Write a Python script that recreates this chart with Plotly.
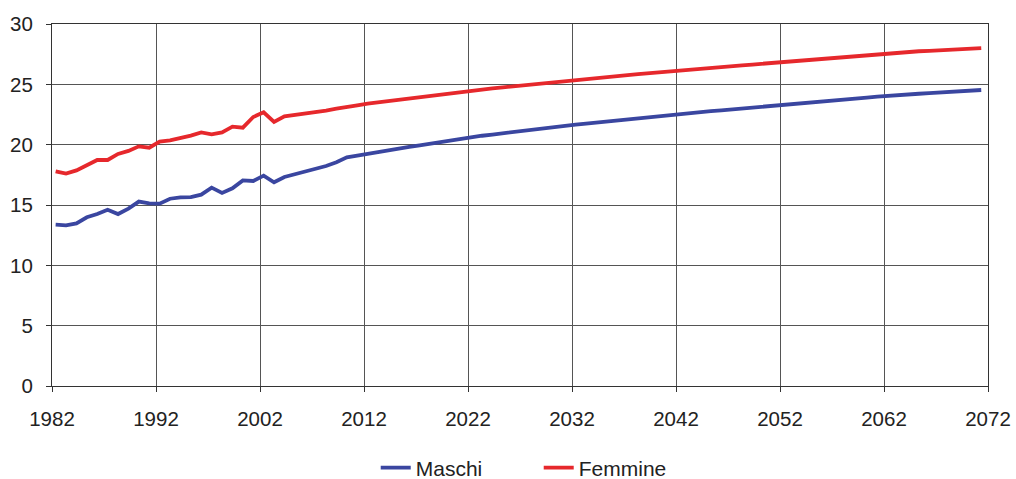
import plotly.graph_objects as go

years = list(range(1982, 2072))

maschi = [
    13.37, 13.31, 13.48, 13.98, 14.25, 14.61, 14.25, 14.70, 15.28, 15.14,
    15.11, 15.52, 15.63, 15.66, 15.86, 16.44, 16.00, 16.38, 17.04, 16.99,
    17.43, 16.88, 17.32, 17.54, 17.73, 17.98, 18.23, 18.54, 18.95, 19.09,
    19.25, 19.39, 19.53, 19.67, 19.81, 19.95, 20.09, 20.22, 20.36, 20.50,
    20.64, 20.74, 20.84, 20.95, 21.05, 21.15, 21.25, 21.35, 21.46, 21.56,
    21.66, 21.75, 21.84, 21.93, 22.02, 22.12, 22.21, 22.30, 22.39, 22.48,
    22.57, 22.64, 22.71, 22.78, 22.85, 22.92, 22.98, 23.05, 23.12, 23.19,
    23.26, 23.34, 23.42, 23.50, 23.58, 23.66, 23.74, 23.82, 23.90, 23.98,
    24.06, 24.11, 24.16, 24.22, 24.27, 24.32, 24.37, 24.43, 24.48, 24.53,
]

femmine = [
    17.79, 17.60, 17.87, 18.34, 18.73, 18.73, 19.23, 19.48, 19.86, 19.75,
    20.25, 20.36, 20.55, 20.75, 21.02, 20.86, 21.02, 21.49, 21.41, 22.29,
    22.68, 21.88, 22.35, 22.46, 22.57, 22.68, 22.82, 22.98, 23.15, 23.26,
    23.40, 23.51, 23.62, 23.73, 23.84, 23.94, 24.05, 24.16, 24.27, 24.38,
    24.48, 24.57, 24.66, 24.75, 24.84, 24.92, 25.01, 25.10, 25.19, 25.27,
    25.36, 25.44, 25.52, 25.60, 25.68, 25.76, 25.84, 25.92, 26.00, 26.08,
    26.16, 26.23, 26.30, 26.37, 26.44, 26.50, 26.57, 26.64, 26.71, 26.78,
    26.85, 26.93, 27.00, 27.08, 27.15, 27.23, 27.30, 27.38, 27.45, 27.53,
    27.60, 27.65, 27.69, 27.74, 27.78, 27.83, 27.87, 27.92, 27.96, 28.00,
]

x_ticks = list(range(1982, 2073, 10))
y_ticks = [0, 5, 10, 15, 20, 25, 30]

# points sit inside their year (category) interval
x_pos = [y + 0.35 for y in years]

fig = go.Figure()
fig.add_trace(go.Scatter(x=x_pos, y=maschi, mode="lines", name="Maschi",
                         line=dict(color="#3A46A0", width=3.8)))
fig.add_trace(go.Scatter(x=x_pos, y=femmine, mode="lines", name="Femmine",
                         line=dict(color="#E6282C", width=3.8)))

fig.update_layout(
    width=1016, height=479,
    margin=dict(l=52, r=28, t=24, b=93, autoexpand=False),
    paper_bgcolor="white", plot_bgcolor="white",
    font=dict(family="Liberation Sans, Arial, sans-serif", size=20.5, color="#222222"),
    showlegend=True,
    legend=dict(orientation="h", x=0.52, xanchor="center", y=-0.2265, yanchor="middle",
                font=dict(size=21), entrywidth=118, entrywidthmode="pixels",
                tracegroupgap=0),
)
fig.update_xaxes(
    range=[1982, 2072], tickvals=x_ticks, ticktext=[str(t) for t in x_ticks],
    showgrid=True, gridcolor="#555555", gridwidth=1,
    showline=True, linecolor="#333333", linewidth=1.2, mirror=True,
    ticks="outside", ticklen=5, tickcolor="#333333",
    ticklabelstandoff=9, zeroline=False, automargin=False,
)
fig.update_yaxes(
    range=[0, 30], tickvals=y_ticks,
    showgrid=True, gridcolor="#555555", gridwidth=1,
    showline=True, linecolor="#333333", linewidth=1.2, mirror=True,
    ticks="outside", ticklen=5, tickcolor="#333333",
    ticklabelstandoff=9, zeroline=False, automargin=False,
)

fig.write_html(
    "out.html",
    config={"displayModeBar": False},
    post_script="document.body.style.margin='0';document.body.style.overflow='hidden';",
)
